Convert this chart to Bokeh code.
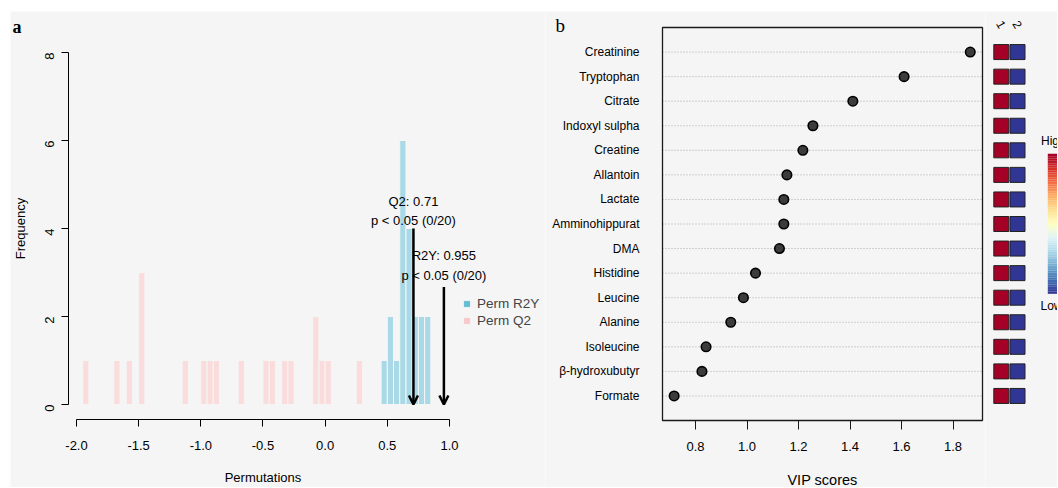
import math
import numpy as np
from bokeh.plotting import figure
from bokeh.layouts import row
from bokeh.models import (Range1d, FixedTicker, NumeralTickFormatter, Arrow, OpenHead,
                          Legend, LegendItem, LinearColorMapper, ColumnDataSource)
from bokeh.core.properties import value
from bokeh.embed import file_html
from bokeh.resources import INLINE

# ---------------- data ----------------
# panel a: permutation histogram
q2_bin_centers = [-1.925, -1.675, -1.575, -1.475, -1.125, -0.975, -0.925, -0.875, -0.675,
                  -0.475, -0.425, -0.325, -0.275, -0.075, -0.025, 0.025, 0.275]
q2_counts = [1, 1, 1, 3, 1, 1, 1, 1, 1, 1, 1, 1, 1, 2, 1, 1, 1]
r2y_bin_centers = [0.475, 0.525, 0.575, 0.625, 0.675, 0.725, 0.775, 0.825]
r2y_counts = [1, 2, 1, 6, 4, 2, 2, 2]
bin_width = 0.05
q2_observed = 0.71
r2y_observed = 0.955
q2_arrow_top = 4.0
r2y_arrow_top = 2.67
q2_text = "Q2: 0.71\np < 0.05 (0/20)"
r2y_text = "R2Y: 0.955\np < 0.05 (0/20)"
perm_ticks = [-2.0, -1.5, -1.0, -0.5, 0.0, 0.5, 1.0]
freq_ticks = [0, 2, 4, 6, 8]
legend_labels = ["Perm R2Y", "Perm Q2"]

# panel b: VIP scores
metabolites = ["Creatinine", "Tryptophan", "Citrate", "Indoxyl sulpha", "Creatine",
               "Allantoin", "Lactate", "Amminohippurat", "DMA", "Histidine", "Leucine",
               "Alanine", "Isoleucine", "\u03b2-hydroxubutyr", "Formate"]
vip_scores = [1.867, 1.610, 1.411, 1.256, 1.217, 1.155, 1.143, 1.143, 1.126, 1.033,
              0.986, 0.937, 0.841, 0.825, 0.717]
vip_ticks = [0.8, 1.0, 1.2, 1.4, 1.6, 1.8]
group_labels = ["1", "2"]
group1_level = [1, 1, 1, 1, 1, 1, 1, 1, 1, 1, 1, 1, 1, 1, 1]
group2_level = [0, 0, 0, 0, 0, 0, 0, 0, 0, 0, 0, 0, 0, 0, 0]
rdylbu = ['#313695', '#4575b4', '#74add1', '#abd9e9', '#e0f3f8', '#ffffbf',
          '#fee090', '#fdae61', '#f46d43', '#d73027', '#a50026']

# ---------------- style / layout ----------------
BG = "#f5f5f5"
SANS = "Liberation Sans"
SERIF = "Liberation Serif"
BLUE_BAR = "#a9d9e6"
PINK_BAR = "#fadcdc"
BLUE_KEY = "#66bdd4"
PINK_KEY = "#f7c9c9"
TOP, LEFT = 11, 10          # page offset of the figures
FIG_H = 476                 # figures span page y 11 .. 487


def lerp_palette(colors, n):
    rgb = np.array([[int(c[i:i + 2], 16) for i in (1, 3, 5)] for c in colors], float)
    out = []
    for v in np.linspace(0, len(colors) - 1, n):
        i = min(int(v), len(colors) - 2)
        f = v - i
        c = rgb[i] * (1 - f) + rgb[i + 1] * f
        out.append("#%02x%02x%02x" % tuple(int(round(x)) for x in c))
    return out


def base_fig(width, x_range, y_range, **kw):
    p = figure(width=width, height=FIG_H, output_backend="svg", toolbar_location=None,
               x_range=x_range, y_range=y_range, min_border_left=0, min_border_right=0,
               min_border_top=0, min_border_bottom=0, **kw)
    p.background_fill_color = BG
    p.border_fill_color = BG
    p.outline_line_color = None
    p.grid.visible = False
    return p


def style_axis(ax, size):
    ax.major_tick_in = 0
    ax.minor_tick_line_color = None
    ax.major_label_text_font = SANS
    ax.major_label_text_font_size = size
    ax.major_label_text_color = "black"


# ---------------- panel a ----------------
LW = 535
xpx, ypx = 124.33, 44.0                     # px per unit / per count
x0_px, y0_px = 76.0, 404.0                  # page px of x=-2 and count=0


def ax_x(px):
    return -2.0 + (px - x0_px) / xpx


def ax_y(py):
    return (y0_px - py) / ypx


pa = base_fig(LW, Range1d(ax_x(LEFT), ax_x(LEFT + LW)),
              Range1d(ax_y(TOP + FIG_H), ax_y(TOP)))

pa.vbar(x=q2_bin_centers, top=q2_counts, width=bin_width, bottom=0,
        fill_color=PINK_BAR, line_color=BG, line_width=1)
pa.vbar(x=r2y_bin_centers, top=r2y_counts, width=bin_width, bottom=0,
        fill_color=BLUE_BAR, line_color=BG, line_width=1)

for xo, yt in [(q2_observed, q2_arrow_top), (r2y_observed, r2y_arrow_top)]:
    pa.add_layout(Arrow(end=OpenHead(size=9, line_width=2.5, line_color="black"),
                        x_start=xo, y_start=yt, x_end=xo, y_end=0,
                        line_width=2.5, line_color="black"))

pa.text(x=[q2_observed, r2y_observed], y=[q2_arrow_top + 0.40, r2y_arrow_top + 0.49],
        text=[q2_text, r2y_text], text_align="center", text_baseline="middle",
        text_font=value(SANS), text_font_size="13px", text_color="black",
        text_line_height=1.3)

xa = pa.xaxis[0]
xa.fixed_location = ax_y(419)
xa.bounds = (-2, 1)
xa.ticker = FixedTicker(ticks=perm_ticks)
xa.formatter = NumeralTickFormatter(format="0.0")
xa.major_tick_out = 7
xa.major_label_standoff = 14
ya = pa.yaxis[0]
ya.fixed_location = ax_x(68)
ya.bounds = (0, 8)
ya.ticker = FixedTicker(ticks=freq_ticks)
ya.major_label_orientation = math.pi / 2
ya.major_tick_out = 7
ya.major_label_standoff = 12
for ax in (xa, ya):
    style_axis(ax, "13px")
    ax.axis_line_color = "black"
    ax.major_tick_line_color = "black"

pa.text(x=[-0.5], y=[ax_y(477)], text=["Permutations"], text_align="center",
        text_baseline="middle", text_font=value(SANS), text_font_size="13px",
        text_color="black")
pa.text(x=[ax_x(20)], y=[4.0], text=["Frequency"], angle=math.pi / 2, text_align="center",
        text_baseline="middle", text_font=value(SANS), text_font_size="13px",
        text_color="black")
pa.text(x=[ax_x(12)], y=[ax_y(26)], text=["a"], text_align="left", text_baseline="middle",
        text_font=value(SERIF), text_font_size="18px", text_font_style="bold",
        text_color="black")

key_b = pa.scatter(x=[float("nan")], y=[float("nan")], marker="square", size=5,
                   fill_color=BLUE_KEY, line_color=BLUE_KEY)
key_p = pa.scatter(x=[float("nan")], y=[float("nan")], marker="square", size=5,
                   fill_color=PINK_KEY, line_color=PINK_KEY)
leg = Legend(items=[LegendItem(label=legend_labels[0], renderers=[key_b]),
                    LegendItem(label=legend_labels[1], renderers=[key_p])],
             location=(450, 158), padding=0, margin=0, spacing=0,
             glyph_width=13, glyph_height=13, label_standoff=4, label_height=17,
             label_text_font=SANS, label_text_font_size="13.5px",
             border_line_color=None, background_fill_alpha=0)
pa.add_layout(leg)

# ---------------- panel b ----------------
VW = 440
VX0 = LEFT + LW                              # page x of this figure
vxpx = 257.5                                 # px per VIP unit
n = len(metabolites)
rows = list(range(n, 0, -1))
row_px = (420 - 27) / (n + 1)                # px per row; rows span page y 27..420


def bx_x(px):
    return 0.8 + (px - 695) / vxpx


def bx_y(py):
    return (420 - py) / row_px


pb = base_fig(VW, Range1d(bx_x(VX0), bx_x(VX0 + VW)),
              Range1d(bx_y(TOP + FIG_H), bx_y(TOP)))
box_l, box_r = bx_x(662), bx_x(982)

pb.segment(x0=box_l, x1=box_r, y0=rows, y1=rows, line_color="#a8a8a8",
           line_dash="1 2", line_width=1)
pb.quad(left=box_l, right=box_r, bottom=0, top=n + 1, fill_color=None,
        line_color="#1a1a1a", line_width=1.3)
pb.scatter(x=vip_scores, y=rows, size=9.5, fill_color="#3c3c3c", line_color="black",
           line_width=1.6)

bxa = pb.xaxis[0]
bxa.fixed_location = 0
bxa.ticker = FixedTicker(ticks=vip_ticks)
bxa.formatter = NumeralTickFormatter(format="0.0")
bxa.axis_line_color = None
bxa.major_tick_out = 9
bxa.major_tick_line_color = "#1a1a1a"
bxa.major_label_standoff = 12
style_axis(bxa, "13px")

bya = pb.yaxis[0]
bya.fixed_location = box_l
bya.ticker = FixedTicker(ticks=rows)
bya.major_label_overrides = {r: m for r, m in zip(rows, metabolites)}
bya.axis_line_color = None
bya.major_tick_line_color = None
bya.major_label_standoff = 17
style_axis(bya, "12px")

pb.text(x=[(box_l + box_r) / 2], y=[bx_y(479)], text=["VIP scores"], text_align="center",
        text_baseline="middle", text_font=value(SANS), text_font_size="14.5px",
        text_color="black")
pb.text(x=[bx_x(555)], y=[bx_y(25)], text=["b"], text_align="left", text_baseline="middle",
        text_font=value(SERIF), text_font_size="19px", text_color="black")

# ---------------- heat strip ----------------
HW = 72
HX0 = VX0 + VW
hxpx = 16.2


def hx(px):
    return 1 + (px - 1000.8) / hxpx


ph = base_fig(HW, Range1d(hx(HX0), hx(HX0 + HW)),
              Range1d(bx_y(TOP + FIG_H), bx_y(TOP)),
              x_axis_location=None, y_axis_location=None)

mapper = LinearColorMapper(palette=[rdylbu[0], rdylbu[-1]], low=0, high=1)
heat_src = ColumnDataSource(dict(x=[1] * n + [2] * n, y=rows + rows,
                                 lvl=group1_level + group2_level))
ph.rect(x="x", y="y", width=15, height=15, width_units="screen", height_units="screen",
        fill_color={"field": "lvl", "transform": mapper}, source=heat_src,
        line_color="#222222", line_width=1)

ph.text(x=[1, 2], y=[bx_y(24)] * 2, text=group_labels, angle=-math.pi / 3,
        text_align="center", text_baseline="middle", text_font=value(SANS),
        text_font_size="12px", text_color="black")

steps = lerp_palette(rdylbu, 60)
edges = np.linspace(bx_y(293.3), bx_y(153.3), len(steps) + 1)
ph.quad(left=hx(1047.3), right=hx(1056.7), bottom=edges[:-1], top=edges[1:],
        fill_color=steps, line_color=None)
ph.text(x=[hx(1040.5), hx(1040.0)], y=[bx_y(140), bx_y(305)], text=["High", "Low"],
        text_align="left", text_baseline="middle", text_font=value(SANS),
        text_font_size="12px", text_color="black")

layout = row(pa, pb, ph, spacing=0)
layout.margin = (TOP, 0, 0, LEFT)
open("out.html", "w").write(file_html(layout, INLINE))
